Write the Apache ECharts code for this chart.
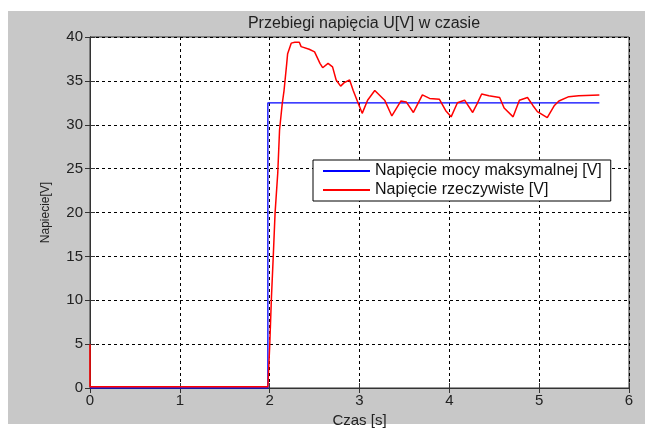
<!DOCTYPE html>
<html>
<head>
<meta charset="utf-8">
<script src="https://cdn.jsdelivr.net/npm/echarts@6/dist/echarts.min.js"></script>
<style>
  html, body { margin: 0; padding: 0; background: #fff; }
  #chart { width: 645px; height: 428px; }
</style>
</head>
<body>
<div id="chart"></div>
<script>
// napiecie mocy maksymalnej (skok w t ~ 1.98 s)
var tMax = [0, 1.98, 1.98, 5.67];
var uMax = [0, 0, 32.5, 32.5];

// napiecie rzeczywiste
var tReal = [0, 0, 1.98, 2.0, 2.02, 2.04, 2.06, 2.09, 2.11, 2.14, 2.16, 2.19, 2.2, 2.24, 2.28, 2.33, 2.35,
  2.44, 2.5, 2.56, 2.59, 2.65, 2.7, 2.74, 2.79, 2.83, 2.89, 2.93, 2.98, 3.03, 3.09, 3.17, 3.28, 3.36,
  3.46, 3.52, 3.6, 3.7, 3.78, 3.89, 3.96, 4.02, 4.09, 4.17, 4.26, 4.31, 4.36, 4.44, 4.56, 4.61, 4.71,
  4.78, 4.87, 4.93, 4.98, 5.09, 5.17, 5.22, 5.33, 5.44, 5.67];
var uReal = [5, 0.15, 0.15, 4.7, 10.4, 15.0, 19.9, 24.5, 29.4, 32.4, 33.9, 37.0, 38.1, 39.3, 39.4, 39.4, 38.9,
  38.6, 38.3, 37.0, 36.5, 37.0, 36.6, 35.1, 34.4, 34.8, 35.1, 33.9, 32.6, 31.3, 32.8, 33.9, 32.8, 31.0,
  32.7, 32.6, 31.4, 33.4, 33.0, 32.9, 31.6, 30.9, 32.5, 32.8, 31.4, 32.4, 33.5, 33.3, 33.1, 31.9, 30.9,
  32.8, 33.1, 32.2, 31.5, 30.8, 32.2, 32.7, 33.2, 33.3, 33.4];

var seriesNames = ['Napięcie mocy maksymalnej [V]', 'Napięcie rzeczywiste [V]'];
var colors = ['#0000ff', '#ff0000'];

function pairs(xs, ys) {
    var out = [];
    for (var i = 0; i < xs.length; i++) out.push([xs[i], ys[i]]);
    return out;
}

var font = '"Liberation Sans", Arial, sans-serif';
var gridLine = { show: true, lineStyle: { color: '#000', type: [3, 3], width: 1 } };

var myChart = echarts.init(document.getElementById('chart'));
var option = {
    backgroundColor: '#fff',
    animation: false,
    color: colors,
    textStyle: { fontFamily: font },
    graphic: [{
        type: 'rect', z: -10, silent: true,
        shape: { x: 8, y: 11, width: 637, height: 413 },
        style: { fill: '#c8c8c8' }
    }],
    title: {
        text: 'Przebiegi napięcia U[V] w czasie',
        left: 359, top: 11, textAlign: 'center',
        textStyle: { fontSize: 16, fontWeight: 'normal', color: '#222', fontFamily: font }
    },
    legend: {
        orient: 'vertical',
        left: 313, top: 160,
        backgroundColor: '#fff',
        borderColor: '#000', borderWidth: 1, borderRadius: 0,
        padding: [3, 9, 3, 10],
        itemGap: 3,
        itemWidth: 47, itemHeight: 2,
        icon: 'rect',
        textStyle: { fontSize: 16, color: '#111', fontFamily: font },
        data: seriesNames
    },
    grid: {
        left: 90, right: 16, top: 37, bottom: 40,
        outerBoundsMode: 'none',
        show: true, backgroundColor: '#fff', borderColor: '#333', borderWidth: 1
    },
    xAxis: [{
        type: 'value', min: 0, max: 6, interval: 1,
        name: 'Czas [s]', nameLocation: 'middle', nameGap: 22,
        nameTextStyle: { fontSize: 15, color: '#222' },
        axisLine: { show: true, lineStyle: { color: '#333' } },
        axisTick: { show: true, inside: true, length: 5, lineStyle: { color: '#333' } },
        axisLabel: { fontSize: 15, color: '#222', margin: 5 },
        splitLine: gridLine
    }, {
        type: 'value', min: 0, max: 6, interval: 1, position: 'top',
        axisLine: { show: true, lineStyle: { color: '#333' } },
        axisTick: { show: true, inside: true, length: 5, lineStyle: { color: '#333' } },
        axisLabel: { show: false }, splitLine: { show: false }
    }],
    yAxis: [{
        type: 'value', min: 0, max: 40, interval: 5,
        name: 'Napiecie[V]', nameLocation: 'middle', nameGap: 38, nameRotate: 90,
        nameTextStyle: { fontSize: 12, color: '#222' },
        axisLine: { show: true, lineStyle: { color: '#333' } },
        axisTick: { show: true, inside: true, length: 5, lineStyle: { color: '#333' } },
        axisLabel: { fontSize: 15, color: '#222', margin: 7 },
        splitLine: gridLine
    }, {
        type: 'value', min: 0, max: 40, interval: 5, position: 'right',
        axisLine: { show: true, lineStyle: { color: '#333' } },
        axisTick: { show: true, inside: true, length: 5, lineStyle: { color: '#333' } },
        axisLabel: { show: false }, splitLine: { show: false }
    }],
    series: [{
        name: seriesNames[0], type: 'line', showSymbol: false, symbol: 'none',
        data: pairs(tMax, uMax),
        lineStyle: { width: 1.3, color: colors[0] }
    }, {
        name: seriesNames[1], type: 'line', showSymbol: false, symbol: 'none',
        data: pairs(tReal, uReal),
        lineStyle: { width: 1.5, color: colors[1] }
    }]
};
myChart.setOption(option);
window.onresize = myChart.resize;
</script>
</body>
</html>
